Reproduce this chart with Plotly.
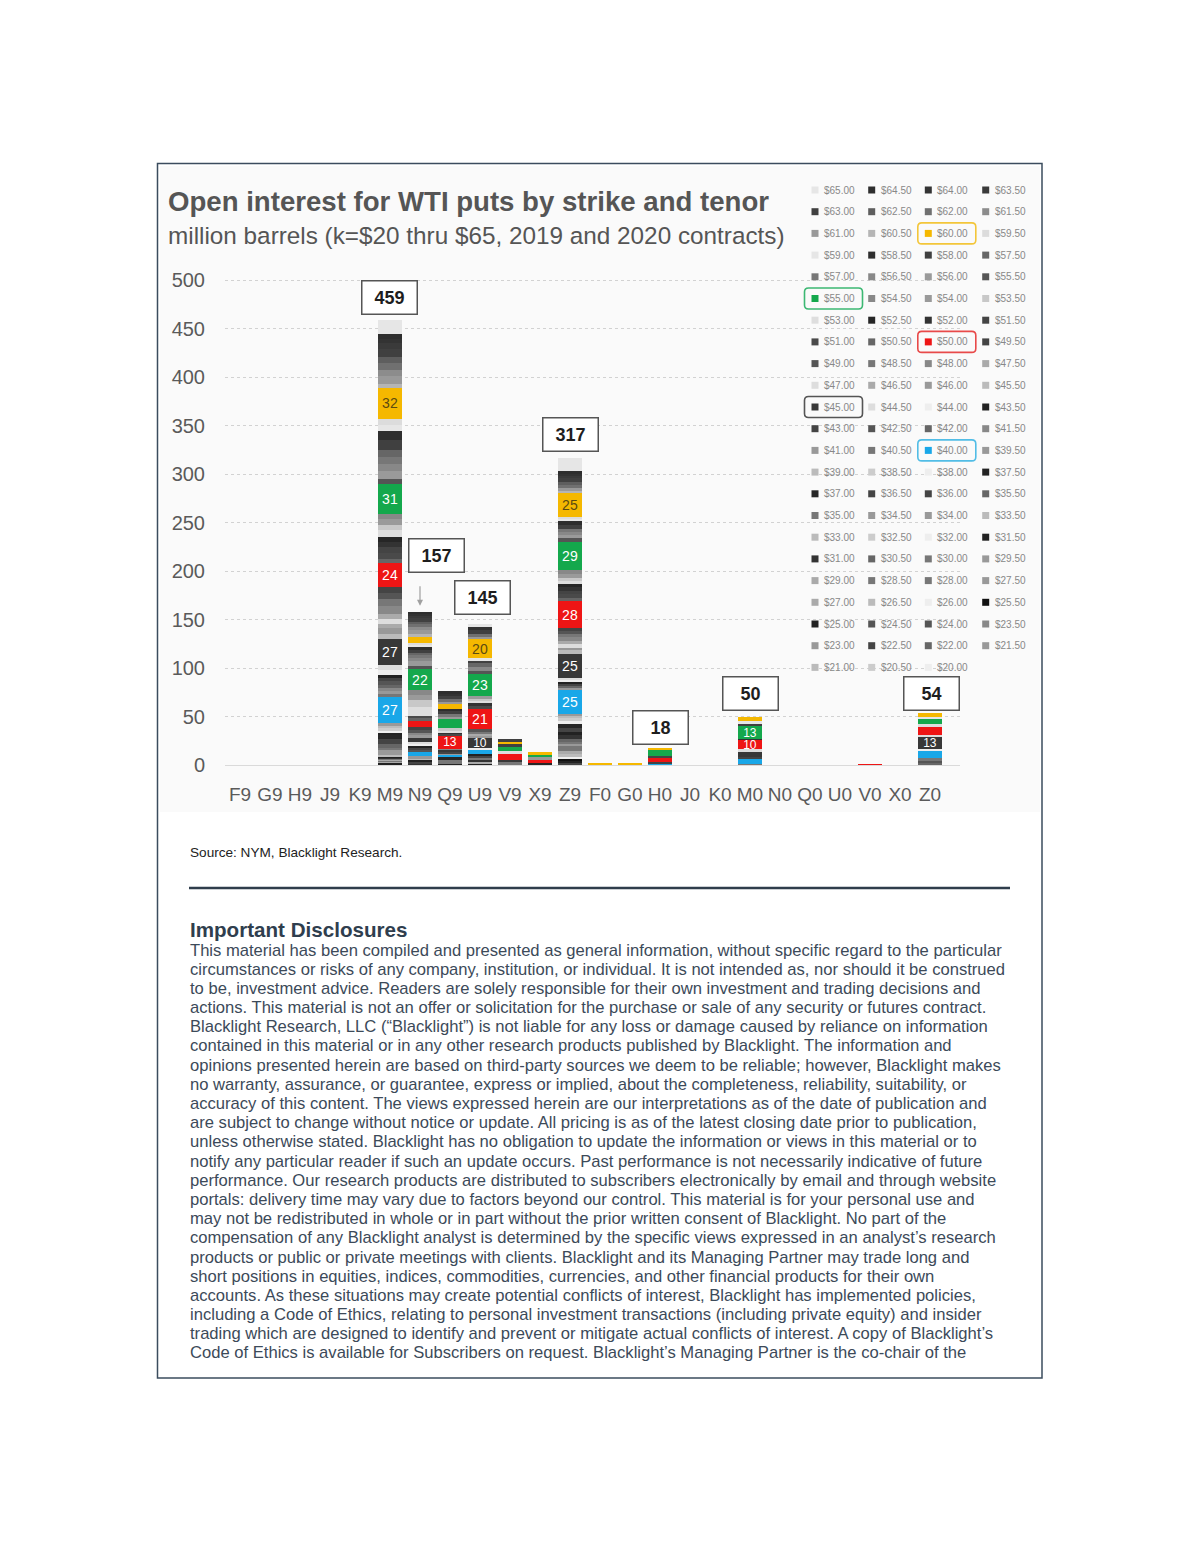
import plotly.graph_objects as go

# ---------------- data ----------------
tenors = ["F9", "G9", "H9", "J9", "K9", "M9", "N9", "Q9", "U9", "V9", "X9", "Z9",
          "F0", "G0", "H0", "J0", "K0", "M0", "N0", "Q0", "U0", "V0", "X0", "Z0"]

# strikes in legend order ($65.00 down to $20.00)
strikes = [65.0, 64.5, 64.0, 63.5, 63.0, 62.5, 62.0, 61.5, 61.0, 60.5,
           60.0, 59.5, 59.0, 58.5, 58.0, 57.5, 57.0, 56.5, 56.0, 55.5,
           55.0, 54.5, 54.0, 53.5, 53.0, 52.5, 52.0, 51.5, 51.0, 50.5,
           50.0, 49.5, 49.0, 48.5, 48.0, 47.5, 47.0, 46.5, 46.0, 45.5,
           45.0, 44.5, 44.0, 43.5, 43.0, 42.5, 42.0, 41.5, 41.0, 40.5,
           40.0, 39.5, 39.0, 38.5, 38.0, 37.5, 37.0, 36.5, 36.0, 35.5,
           35.0, 34.5, 34.0, 33.5, 33.0, 32.5, 32.0, 31.5, 31.0, 30.5,
           30.0, 29.5, 29.0, 28.5, 28.0, 27.5, 27.0, 26.5, 26.0, 25.5,
           25.0, 24.5, 24.0, 23.5, 23.0, 22.5, 22.0, 21.5, 21.0, 20.5, 20.0]

strike_colors = ["#e6e6e6", "#2e2e2e", "#333333", "#3a3a3a", "#404040", "#5e5e5e", "#707070", "#8c8c8c", "#999999", "#b5b5b5",
                 "#f5b800", "#dcdcdc", "#e6e6e6", "#2e2e2e", "#404040", "#666666", "#777777", "#888888", "#9a9a9a", "#555555",
                 "#14a84c", "#888888", "#9a9a9a", "#c8c8c8", "#dedede", "#262626", "#333333", "#444444", "#4a4a4a", "#666666",
                 "#ee1515", "#444444", "#555555", "#777777", "#888888", "#aaaaaa", "#dddddd", "#aaaaaa", "#999999", "#bbbbbb",
                 "#383838", "#dddddd", "#eeeeee", "#222222", "#444444", "#555555", "#666666", "#888888", "#999999", "#777777",
                 "#19a7e8", "#999999", "#bbbbbb", "#cccccc", "#eeeeee", "#222222", "#262626", "#444444", "#444444", "#666666",
                 "#777777", "#999999", "#999999", "#bbbbbb", "#bbbbbb", "#cccccc", "#eeeeee", "#222222", "#333333", "#666666",
                 "#777777", "#999999", "#aaaaaa", "#777777", "#777777", "#999999", "#aaaaaa", "#bbbbbb", "#eeeeee", "#111111",
                 "#222222", "#555555", "#555555", "#888888", "#999999", "#444444", "#666666", "#999999", "#bbbbbb", "#cccccc", "#eeeeee"]

highlight_strikes = [60.0, 55.0, 50.0, 45.0, 40.0]
highlight_box_colors = ["#f3c63a", "#3cb873", "#e84a4a", "#555555", "#52bde6"]

# open interest, million barrels, per tenor: strike -> value
OI_M9 = {24.0: 1, 25.0: 2, 27.0: 1, 28.0: 1, 29.0: 1, 30.0: 1, 31.0: 1, 31.5: 1, 33.0: 1, 33.5: 1,
         34.0: 2, 34.5: 2, 35.0: 3, 35.5: 4, 36.0: 2, 36.5: 3, 37.0: 4, 37.5: 3,
         38.0: 2, 38.5: 2, 39.0: 3, 39.5: 2, 40.0: 27,
         40.5: 3, 41.0: 3, 41.5: 3, 42.0: 4, 42.5: 4, 43.0: 3, 43.5: 3, 44.0: 5, 44.5: 5, 45.0: 27,
         45.5: 5, 46.0: 6, 46.5: 4, 47.0: 6, 47.5: 5, 48.0: 8, 48.5: 7, 49.0: 6, 49.5: 7, 50.0: 24,
         50.5: 5, 51.0: 6, 51.5: 6, 52.0: 5, 52.5: 5, 53.0: 7, 53.5: 6, 54.0: 6, 54.5: 5, 55.0: 31,
         55.5: 5, 56.0: 8, 56.5: 8, 57.0: 7, 57.5: 7, 58.0: 10, 58.5: 10, 59.0: 6, 59.5: 6, 60.0: 32,
         60.5: 4, 61.0: 8, 61.5: 7, 62.0: 7, 62.5: 6, 63.0: 8, 63.5: 6, 64.0: 5, 64.5: 5, 65.0: 14}
OI_N9 = {31.0: 2, 36.5: 2, 37.5: 2, 39.0: 1, 39.5: 2, 40.0: 5, 42.5: 2, 43.0: 2, 43.5: 2, 44.0: 2, 44.5: 2,
         45.0: 4, 46.0: 3, 48.0: 3, 49.0: 2, 49.5: 3, 50.0: 7, 50.5: 2, 51.0: 3, 53.0: 9, 53.5: 7,
         54.0: 5, 54.5: 5, 55.0: 22, 55.5: 3, 56.0: 5, 56.5: 3, 57.0: 3, 57.5: 3, 58.0: 3, 58.5: 3,
         59.0: 2, 59.5: 2, 60.0: 7, 60.5: 2, 61.0: 4, 61.5: 3, 62.0: 3, 62.5: 3, 63.0: 4, 63.5: 2,
         64.0: 2, 64.5: 1}
OI_Q9 = {25.0: 2, 30.0: 2, 35.0: 2, 37.0: 2, 40.0: 3, 41.0: 1, 43.0: 2, 45.0: 2, 48.0: 1, 50.0: 13,
         51.0: 2, 52.0: 2, 53.0: 2, 53.5: 2, 55.0: 9, 56.0: 3, 57.0: 3, 58.0: 3, 58.5: 2, 60.0: 5,
         61.0: 2, 62.0: 3, 63.0: 3, 64.0: 3, 64.5: 2}
OI_U9 = {25.0: 2, 29.0: 2, 31.0: 2, 35.0: 2, 36.0: 2, 37.5: 1, 40.0: 5, 44.0: 2, 45.0: 10,
         46.0: 2, 47.5: 2, 48.5: 3, 49.0: 2, 50.0: 21, 51.0: 3, 52.0: 3, 53.0: 3, 53.5: 2, 54.0: 2,
         55.0: 23, 55.5: 3, 56.5: 4, 57.5: 4, 58.0: 3, 59.0: 2, 60.0: 20,
         61.0: 2, 62.0: 3, 63.0: 4, 64.0: 3, 65.0: 3}
OI_V9 = {30.0: 2, 35.0: 2, 45.0: 1, 50.0: 7, 53.0: 2, 55.0: 5, 58.0: 3, 60.0: 2, 63.0: 3}
OI_X9 = {37.0: 2, 50.0: 4, 54.0: 2, 55.0: 3, 60.0: 2}
OI_Z9 = {22.5: 3, 25.0: 2, 25.5: 2, 26.0: 2, 26.5: 2, 27.0: 3, 28.0: 3, 28.5: 3, 29.5: 2, 30.0: 2,
         30.5: 3, 31.0: 4, 31.5: 3, 36.0: 4, 37.0: 4, 38.0: 3, 38.5: 3, 39.0: 3, 39.5: 2, 40.0: 25,
         41.0: 2, 42.0: 2, 43.0: 2, 43.5: 2, 44.0: 2, 44.5: 2, 45.0: 25,
         45.5: 4, 46.0: 2, 47.0: 4, 47.5: 3, 48.0: 4, 48.5: 3, 49.0: 3, 49.5: 3, 50.0: 28,
         50.5: 3, 51.0: 4, 51.5: 4, 52.0: 4, 52.5: 3, 53.0: 3, 53.5: 3, 54.0: 4, 54.5: 4, 55.0: 29,
         55.5: 4, 56.0: 4, 56.5: 2, 57.0: 4, 58.0: 4, 58.5: 4, 59.0: 2, 59.5: 2, 60.0: 25,
         60.5: 2, 61.0: 3, 62.0: 3, 62.5: 3, 63.0: 4, 63.5: 3, 64.0: 2, 64.5: 2, 65.0: 14}
OI_F0 = {60.0: 1.5}
OI_G0 = {59.0: 1, 60.0: 0.5}
OI_H0 = {40.0: 2, 43.0: 1, 50.0: 5, 51.5: 1, 55.0: 7, 60.0: 2}
OI_M0 = {35.0: 1, 40.0: 6, 43.0: 1, 45.0: 6, 47.0: 2, 50.0: 10, 52.0: 1, 55.0: 13, 58.0: 3, 59.0: 2, 60.0: 5}
OI_V0 = {50.0: 1}
OI_Z0 = {22.0: 3, 24.0: 2, 35.0: 2, 40.0: 8, 44.0: 1, 45.0: 13, 47.0: 2, 50.0: 8, 53.0: 3, 55.0: 5, 59.0: 3, 60.0: 4}

oi_by_tenor = {"M9": OI_M9, "N9": OI_N9, "Q9": OI_Q9, "U9": OI_U9, "V9": OI_V9, "X9": OI_X9,
               "Z9": OI_Z9, "F0": OI_F0, "G0": OI_G0, "H0": OI_H0, "M0": OI_M0, "V0": OI_V0, "Z0": OI_Z0}

total_label_tenors = ["M9", "N9", "U9", "Z9", "H0", "M0", "Z0"]

title_text = "Open interest for WTI puts by strike and tenor"
subtitle_text = "million barrels (k=$20 thru $65, 2019 and 2020 contracts)"
source_text = "Source: NYM, Blacklight Research."
disclosure_title = "Important Disclosures"
disclosure_lines = [
    "This material has been compiled and presented as general information, without specific regard to the particular",
    "circumstances or risks of any company, institution, or individual. It is not intended as, nor should it be construed",
    "to be, investment advice. Readers are solely responsible for their own investment and trading decisions and",
    "actions. This material is not an offer or solicitation for the purchase or sale of any security or futures contract.",
    "Blacklight Research, LLC (\u201cBlacklight\u201d) is not liable for any loss or damage caused by reliance on information",
    "contained in this material or in any other research products published by Blacklight. The information and",
    "opinions presented herein are based on third-party sources we deem to be reliable; however, Blacklight makes",
    "no warranty, assurance, or guarantee, express or implied, about the completeness, reliability, suitability, or",
    "accuracy of this content. The views expressed herein are our interpretations as of the date of publication and",
    "are subject to change without notice or update. All pricing is as of the latest closing date prior to publication,",
    "unless otherwise stated. Blacklight has no obligation to update the information or views in this material or to",
    "notify any particular reader if such an update occurs. Past performance is not necessarily indicative of future",
    "performance. Our research products are distributed to subscribers electronically by email and through website",
    "portals: delivery time may vary due to factors beyond our control. This material is for your personal use and",
    "may not be redistributed in whole or in part without the prior written consent of Blacklight. No part of the",
    "compensation of any Blacklight analyst is determined by the specific views expressed in an analyst\u2019s research",
    "products or public or private meetings with clients. Blacklight and its Managing Partner may trade long and",
    "short positions in equities, indices, commodities, currencies, and other financial products for their own",
    "accounts. As these situations may create potential conflicts of interest, Blacklight has implemented policies,",
    "including a Code of Ethics, relating to personal investment transactions (including private equity) and insider",
    "trading which are designed to identify and prevent or mitigate actual conflicts of interest. A copy of Blacklight\u2019s",
    "Code of Ethics is available for Subscribers on request. Blacklight\u2019s Managing Partner is the co-chair of the",
]

# ---------------- layout geometry ----------------
OFF = 8                      # page body margin of the html
W, H = 1200 - 2 * OFF, 1553 - 2 * OFF
PLOT_L, PLOT_R, PLOT_T, PLOT_B = 225, 960, 261, 765   # in page pixels
L = PLOT_L - OFF
T = PLOT_T - OFF
R = W - (PLOT_R - OFF)
B = H - (PLOT_B - OFF)
PW = PLOT_R - PLOT_L
PH = PLOT_B - PLOT_T


def X(px):
    return (px - PLOT_L) / PW


def Y(py):
    return (PLOT_B - py) / PH


FONT = "Liberation Sans, Arial, sans-serif"
color_of = dict(zip(strikes, strike_colors))

fig = go.Figure()

# stacked bars: lowest strike at the bottom
for s in sorted(strikes):
    ys, texts, sizes = [], [], []
    for t in tenors:
        v = oi_by_tenor.get(t, {}).get(s)
        ys.append(v)
        if v is not None and s in highlight_strikes and v >= 10:
            texts.append(str(int(v)))
        else:
            texts.append("")
        sizes.append(14 if (v or 0) >= 15 else 12)
    if all(v is None for v in ys):
        continue
    txt_color = "#5b4a12" if s == 60.0 else "#ffffff"
    fig.add_trace(go.Bar(
        x=tenors, y=ys, name=f"${s:.2f}",
        marker=dict(color=color_of[s], line=dict(width=0)),
        text=texts, textposition="inside", insidetextanchor="middle",
        textangle=0, constraintext="none",
        textfont=dict(family=FONT, size=sizes, color=txt_color),
        hoverinfo="skip", showlegend=False,
    ))

annotations = []
shapes = []

# chart-image background and page frame
shapes.append(dict(type="rect", xref="paper", yref="paper", layer="below",
                   x0=X(160), x1=X(1040), y0=Y(812), y1=Y(166),
                   fillcolor="#fafafa", line=dict(width=0)))
shapes.append(dict(type="rect", xref="paper", yref="paper",
                   x0=X(157.5), x1=X(1042), y0=Y(1378), y1=Y(163.5),
                   fillcolor="rgba(0,0,0,0)", line=dict(color="#3b4c5e", width=1.5)))

# totals boxes
total_shift = {"M9": (-1, 5), "N9": (16, 40), "U9": (2, 9.5), "Z9": (0, 6),
               "H0": (0, 3), "M0": (0, 5.5), "Z0": (1.5, 2)}
for t in total_label_tenors:
    tot = sum(oi_by_tenor[t].values())
    dx, dy = total_shift[t]
    annotations.append(dict(
        x=t, y=tot, xref="x", yref="y", text=f"<b>{int(round(tot))}</b>",
        showarrow=False, xanchor="center", yanchor="bottom", xshift=dx, yshift=dy,
        font=dict(family=FONT, size=18, color="#1e1e1e"),
        bgcolor="#ffffff", bordercolor="#555555", borderwidth=1.5, borderpad=2,
        width=50, height=28))
# arrow for N9 total
annotations.append(dict(x="N9", y=sum(OI_N9.values()), xref="x", yref="y", text="",
                        showarrow=True, ax=0, ay=-28, arrowhead=2, arrowsize=1,
                        arrowwidth=1.2, arrowcolor="#a0a0a0", standoff=7))

# titles
annotations.append(dict(xref="paper", yref="paper", x=X(166), y=Y(201), text=f"<b>{title_text}</b>",
                        showarrow=False, xanchor="left", yanchor="middle",
                        font=dict(family=FONT, size=27.6, color="#555555")))
annotations.append(dict(xref="paper", yref="paper", x=X(166), y=Y(236), text=subtitle_text,
                        showarrow=False, xanchor="left", yanchor="middle",
                        font=dict(family=FONT, size=24.3, color="#555555")))

# custom legend (4 columns)
marker_x = [815, 871.7, 928.3, 985.7]
text_x = [822, 878.7, 935.3, 992.7]
for i, (s, c) in enumerate(zip(strikes, strike_colors)):
    row, col = divmod(i, 4)
    yc = 190 + 21.7 * row
    mx = marker_x[col]
    shapes.append(dict(type="rect", xref="paper", yref="paper",
                       x0=X(mx - 3.5), x1=X(mx + 3.5), y0=Y(yc + 3.5), y1=Y(yc - 3.5),
                       fillcolor=c, line=dict(width=0)))
    annotations.append(dict(xref="paper", yref="paper", x=X(text_x[col]), y=Y(yc), text=f"${s:.2f}",
                            showarrow=False, xanchor="left", yanchor="middle",
                            font=dict(family=FONT, size=10, color="#888888")))
    if s in highlight_strikes:
        bc = highlight_box_colors[highlight_strikes.index(s)]
        x0, x1, y0, y1, r = mx - 10.5, mx + 47.5, yc - 10.5, yc + 10.5, 4
        path = (f"M {X(x0 + r)},{Y(y0)} L {X(x1 - r)},{Y(y0)} Q {X(x1)},{Y(y0)} {X(x1)},{Y(y0 + r)} "
                f"L {X(x1)},{Y(y1 - r)} Q {X(x1)},{Y(y1)} {X(x1 - r)},{Y(y1)} "
                f"L {X(x0 + r)},{Y(y1)} Q {X(x0)},{Y(y1)} {X(x0)},{Y(y1 - r)} "
                f"L {X(x0)},{Y(y0 + r)} Q {X(x0)},{Y(y0)} {X(x0 + r)},{Y(y0)} Z")
        shapes.append(dict(type="path", xref="paper", yref="paper", path=path,
                           line=dict(color=bc, width=1.6), fillcolor="rgba(0,0,0,0)"))

# source, rule, disclosures
annotations.append(dict(xref="paper", yref="paper", x=X(188), y=Y(852), text=source_text,
                        showarrow=False, xanchor="left", yanchor="middle",
                        font=dict(family=FONT, size=13.6, color="#222222")))
shapes.append(dict(type="line", xref="paper", yref="paper", x0=X(189), x1=X(1010), y0=Y(888), y1=Y(888),
                   line=dict(color="#2f3d4c", width=2.5)))
annotations.append(dict(xref="paper", yref="paper", x=X(188), y=Y(929), text=f"<b>{disclosure_title}</b>",
                        showarrow=False, xanchor="left", yanchor="middle",
                        font=dict(family=FONT, size=20.6, color="#2f3e4e")))
for k, line in enumerate(disclosure_lines):
    annotations.append(dict(xref="paper", yref="paper", x=X(188), y=Y(950 + 19.19 * k), text=line,
                            showarrow=False, xanchor="left", yanchor="middle",
                            font=dict(family=FONT, size=16.6, color="#3c4a59")))

fig.update_layout(
    width=W, height=H, autosize=False,
    margin=dict(l=L, r=R, t=T, b=B),
    paper_bgcolor="#ffffff", plot_bgcolor="rgba(0,0,0,0)",
    barmode="stack", bargap=0.2,
    showlegend=False,
    annotations=annotations, shapes=shapes,
    xaxis=dict(type="category", categoryorder="array", categoryarray=tenors,
               showgrid=False, showline=True, linecolor="#dadada", linewidth=1,
               ticks="outside", ticklen=12, tickcolor="rgba(0,0,0,0)",
               tickfont=dict(family=FONT, size=19, color="#5a5a5a"), fixedrange=True),
    yaxis=dict(range=[0, 520], tickvals=[0, 50, 100, 150, 200, 250, 300, 350, 400, 450, 500],
               showgrid=True, gridcolor="#d2d2d2", gridwidth=1, griddash="3px,3px",
               zeroline=False, showline=False,
               ticks="outside", ticklen=15, tickcolor="rgba(0,0,0,0)",
               tickfont=dict(family=FONT, size=20, color="#5a5a5a"), fixedrange=True),
)

fig.write_html("out.html")
